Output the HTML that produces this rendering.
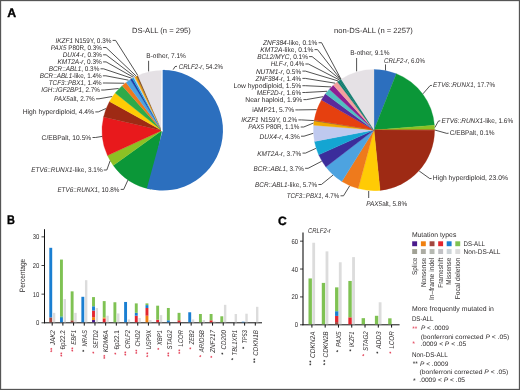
<!DOCTYPE html>
<html><head><meta charset="utf-8"><title>Figure</title>
<style>html,body{margin:0;padding:0;background:#fff;}svg{display:block;will-change:transform;}text{font-family:"Liberation Sans",sans-serif;text-rendering:geometricPrecision;}</style></head>
<body>
<svg width="520" height="390" viewBox="0 0 520 390" font-family='"Liberation Sans", sans-serif'>
<rect x="0" y="0" width="520" height="390" fill="#ffffff"/>
<path d="M161.90,130.50 L150.54,189.31 A59.9,59.9 0 0 1 113.25,165.45 Z" fill="#0b9738" stroke="#0b9738" stroke-width="0.3"/>
<path d="M161.90,130.50 L113.25,165.45 A59.9,59.9 0 0 1 107.49,155.54 Z" fill="#8cc124" stroke="#8cc124" stroke-width="0.3"/>
<path d="M161.90,130.50 L107.49,155.54 A59.9,59.9 0 0 1 103.56,116.90 Z" fill="#e8191c" stroke="#e8191c" stroke-width="0.3"/>
<path d="M161.90,130.50 L103.56,116.90 A59.9,59.9 0 0 1 109.50,101.48 Z" fill="#9e2a14" stroke="#9e2a14" stroke-width="0.3"/>
<path d="M161.90,130.50 L109.50,101.48 A59.9,59.9 0 0 1 115.18,93.01 Z" fill="#ffcb05" stroke="#ffcb05" stroke-width="0.3"/>
<path d="M161.90,130.50 L115.18,93.01 A59.9,59.9 0 0 1 122.22,85.63 Z" fill="#2eaa4a" stroke="#2eaa4a" stroke-width="0.3"/>
<path d="M161.90,130.50 L122.22,85.63 A59.9,59.9 0 0 1 126.18,82.42 Z" fill="#ee7a1c" stroke="#ee7a1c" stroke-width="0.3"/>
<path d="M161.90,130.50 L126.18,82.42 A59.9,59.9 0 0 1 130.40,79.55 Z" fill="#4da3e0" stroke="#4da3e0" stroke-width="0.3"/>
<path d="M161.90,130.50 L130.40,79.55 A59.9,59.9 0 0 1 132.26,78.45 Z" fill="#1c3fa8" stroke="#1c3fa8" stroke-width="0.3"/>
<path d="M161.90,130.50 L132.26,78.45 A59.9,59.9 0 0 1 133.72,77.64 Z" fill="#1aa5d6" stroke="#1aa5d6" stroke-width="0.3"/>
<path d="M161.90,130.50 L133.72,77.64 A59.9,59.9 0 0 1 134.85,77.06 Z" fill="#c0c8f0" stroke="#c0c8f0" stroke-width="0.3"/>
<path d="M161.90,130.50 L134.85,77.06 A59.9,59.9 0 0 1 136.45,76.27 Z" fill="#f5a800" stroke="#f5a800" stroke-width="0.3"/>
<path d="M161.90,130.50 L136.45,76.27 A59.9,59.9 0 0 1 138.08,75.54 Z" fill="#8b5a2b" stroke="#8b5a2b" stroke-width="0.3"/>
<path d="M161.90,130.50 L138.08,75.54 A59.9,59.9 0 0 1 161.90,70.60 Z" fill="#e5e1e5" stroke="#e5e1e5" stroke-width="0.3"/>
<path d="M162.70,130.30 L162.70,70.00 A60.3,60.3 0 1 1 146.83,188.48 Z" fill="#2c6fbe"/>
<path d="M161.0,131.2 L161.6,69 L162.75,69 L162.75,131.2 Z" fill="#fff"/>
<path d="M162.7,130.3 L162.7,69.9 L165,69.9 L165,130.3 Z" fill="#2c6fbe"/>
<text x="132.10" y="32.98" font-size="7.5" text-anchor="start" fill="#2e2b2c" textLength="58.7" lengthAdjust="spacingAndGlyphs">DS-ALL (n = 295)</text>
<text x="146.30" y="57.83" font-size="6.8" text-anchor="start" fill="#2e2b2c" textLength="39.6" lengthAdjust="spacingAndGlyphs">B-other, 7.1%</text>
<text x="178.70" y="68.63" font-size="6.8" text-anchor="start" fill="#2e2b2c" textLength="44.4" lengthAdjust="spacingAndGlyphs"><tspan font-style="italic">CRLF2-r</tspan>, 54.2%</text>
<polyline points="148.60,60.80 148.60,71.40" fill="none" stroke="#333333" stroke-width="0.85" stroke-linejoin="round"/>
<polyline points="177.00,66.30 175.00,66.60 173.20,69.60" fill="none" stroke="#333333" stroke-width="0.85" stroke-linejoin="round"/>
<text x="55.60" y="42.83" font-size="6.8" text-anchor="start" fill="#2e2b2c" textLength="55.8" lengthAdjust="spacingAndGlyphs"><tspan font-style="italic">IKZF1</tspan> N159Y, 0.3%</text>
<polyline points="112.60,40.40 115.60,40.40 137.58,75.06" fill="none" stroke="#333333" stroke-width="0.85" stroke-linejoin="round"/>
<text x="50.80" y="49.93" font-size="6.8" text-anchor="start" fill="#2e2b2c" textLength="51.1" lengthAdjust="spacingAndGlyphs"><tspan font-style="italic">PAX5</tspan> P80R, 0.3%</text>
<polyline points="103.10,47.50 106.10,47.50 135.94,75.83" fill="none" stroke="#333333" stroke-width="0.85" stroke-linejoin="round"/>
<text x="62.70" y="57.23" font-size="6.8" text-anchor="start" fill="#2e2b2c" textLength="39.2" lengthAdjust="spacingAndGlyphs"><tspan font-style="italic">DUX4-r</tspan>, 0.3%</text>
<polyline points="103.10,54.80 106.10,54.80 134.56,76.53" fill="none" stroke="#333333" stroke-width="0.85" stroke-linejoin="round"/>
<text x="57.50" y="64.33" font-size="6.8" text-anchor="start" fill="#2e2b2c" textLength="44.4" lengthAdjust="spacingAndGlyphs"><tspan font-style="italic">KMT2A-r</tspan>, 0.3%</text>
<polyline points="103.10,61.90 106.10,61.90 133.25,77.23" fill="none" stroke="#333333" stroke-width="0.85" stroke-linejoin="round"/>
<text x="48.80" y="71.23" font-size="6.8" text-anchor="start" fill="#2e2b2c" textLength="50.5" lengthAdjust="spacingAndGlyphs"><tspan font-style="italic">BCR</tspan>::<tspan font-style="italic">ABL1</tspan>, 0.3%</text>
<polyline points="100.50,68.80 103.50,68.80 131.57,78.19" fill="none" stroke="#333333" stroke-width="0.85" stroke-linejoin="round"/>
<text x="39.80" y="78.23" font-size="6.8" text-anchor="start" fill="#2e2b2c" textLength="61.9" lengthAdjust="spacingAndGlyphs"><tspan font-style="italic">BCR</tspan>::<tspan font-style="italic">ABL1</tspan>-like, 1.4%</text>
<polyline points="102.90,75.80 105.90,75.80 128.46,80.16" fill="none" stroke="#333333" stroke-width="0.85" stroke-linejoin="round"/>
<text x="48.80" y="85.43" font-size="6.8" text-anchor="start" fill="#2e2b2c" textLength="52.9" lengthAdjust="spacingAndGlyphs"><tspan font-style="italic">TCF3</tspan>::<tspan font-style="italic">PBX1</tspan>, 1.4%</text>
<polyline points="102.90,83.00 105.90,83.00 124.32,83.24" fill="none" stroke="#333333" stroke-width="0.85" stroke-linejoin="round"/>
<text x="41.20" y="92.43" font-size="6.8" text-anchor="start" fill="#2e2b2c" textLength="58.8" lengthAdjust="spacingAndGlyphs"><tspan font-style="italic">IGH</tspan>::<tspan font-style="italic">IGF2BP1</tspan>, 2.7%</text>
<polyline points="101.20,90.00 104.20,90.00 118.63,88.49" fill="none" stroke="#333333" stroke-width="0.85" stroke-linejoin="round"/>
<text x="54.00" y="101.23" font-size="6.8" text-anchor="start" fill="#2e2b2c" textLength="40.8" lengthAdjust="spacingAndGlyphs"><tspan font-style="italic">PAX5</tspan>alt, 2.7%</text>
<polyline points="96.00,98.80 99.00,98.80 112.18,96.53" fill="none" stroke="#333333" stroke-width="0.85" stroke-linejoin="round"/>
<text x="22.70" y="114.33" font-size="6.8" text-anchor="start" fill="#2e2b2c" textLength="71.4" lengthAdjust="spacingAndGlyphs">High hyperdiploid, 4.4%</text>
<polyline points="95.30,111.90 98.30,111.90 105.94,108.53" fill="none" stroke="#333333" stroke-width="0.85" stroke-linejoin="round"/>
<text x="41.60" y="139.93" font-size="6.8" text-anchor="start" fill="#2e2b2c" textLength="49.7" lengthAdjust="spacingAndGlyphs">C/EBPalt, 10.5%</text>
<polyline points="92.50,137.50 95.50,137.50 102.21,136.42" fill="none" stroke="#333333" stroke-width="0.85" stroke-linejoin="round"/>
<text x="31.20" y="172.43" font-size="6.8" text-anchor="start" fill="#2e2b2c" textLength="71.4" lengthAdjust="spacingAndGlyphs"><tspan font-style="italic">ETV6</tspan>::<tspan font-style="italic">RUNX1</tspan>-like, 3.1%</text>
<polyline points="103.80,170.00 106.80,170.00 110.13,160.79" fill="none" stroke="#333333" stroke-width="0.85" stroke-linejoin="round"/>
<text x="57.40" y="191.83" font-size="6.8" text-anchor="start" fill="#2e2b2c" textLength="62.1" lengthAdjust="spacingAndGlyphs"><tspan font-style="italic">ETV6</tspan>::<tspan font-style="italic">RUNX1</tspan>, 10.8%</text>
<polyline points="120.70,189.40 123.70,189.40 127.93,180.07" fill="none" stroke="#333333" stroke-width="0.85" stroke-linejoin="round"/>
<path d="M374.00,130.10 L374.00,69.50 A60.6,60.6 0 0 1 396.31,73.76 Z" fill="#2c6fbe" stroke="#2c6fbe" stroke-width="0.3"/>
<path d="M374.00,130.10 L396.31,73.76 A60.6,60.6 0 0 1 434.40,125.16 Z" fill="#0b9738" stroke="#0b9738" stroke-width="0.3"/>
<path d="M374.00,130.10 L434.40,125.16 A60.6,60.6 0 0 1 434.60,129.91 Z" fill="#8cc124" stroke="#8cc124" stroke-width="0.3"/>
<path d="M374.00,130.10 L434.60,129.91 A60.6,60.6 0 0 1 434.60,130.18 Z" fill="#e8191c" stroke="#e8191c" stroke-width="0.3"/>
<path d="M374.00,130.10 L434.60,130.18 A60.6,60.6 0 0 1 380.08,190.39 Z" fill="#9e2a14" stroke="#9e2a14" stroke-width="0.3"/>
<path d="M374.00,130.10 L380.08,190.39 A60.6,60.6 0 0 1 358.19,188.60 Z" fill="#ffcb05" stroke="#ffcb05" stroke-width="0.3"/>
<path d="M374.00,130.10 L358.19,188.60 A60.6,60.6 0 0 1 341.85,181.47 Z" fill="#ee7a1c" stroke="#ee7a1c" stroke-width="0.3"/>
<path d="M374.00,130.10 L341.85,181.47 A60.6,60.6 0 0 1 325.88,166.94 Z" fill="#4da3e0" stroke="#4da3e0" stroke-width="0.3"/>
<path d="M374.00,130.10 L325.88,166.94 A60.6,60.6 0 0 1 318.69,154.86 Z" fill="#3b2d9b" stroke="#3b2d9b" stroke-width="0.3"/>
<path d="M374.00,130.10 L318.69,154.86 A60.6,60.6 0 0 1 314.47,141.46 Z" fill="#14a5d2" stroke="#14a5d2" stroke-width="0.3"/>
<path d="M374.00,130.10 L314.47,141.46 A60.6,60.6 0 0 1 313.60,125.16 Z" fill="#bfc9ef" stroke="#bfc9ef" stroke-width="0.3"/>
<path d="M374.00,130.10 L313.60,125.16 A60.6,60.6 0 0 1 314.09,121.00 Z" fill="#f2a900" stroke="#f2a900" stroke-width="0.3"/>
<path d="M374.00,130.10 L314.09,121.00 A60.6,60.6 0 0 1 314.21,120.24 Z" fill="#8b5a2b" stroke="#8b5a2b" stroke-width="0.3"/>
<path d="M374.00,130.10 L314.21,120.24 A60.6,60.6 0 0 1 321.46,99.91 Z" fill="#e6400f" stroke="#e6400f" stroke-width="0.3"/>
<path d="M374.00,130.10 L321.46,99.91 A60.6,60.6 0 0 1 325.43,93.87 Z" fill="#5b2a9b" stroke="#5b2a9b" stroke-width="0.3"/>
<path d="M374.00,130.10 L325.43,93.87 A60.6,60.6 0 0 1 329.31,89.17 Z" fill="#4fc0c0" stroke="#4fc0c0" stroke-width="0.3"/>
<path d="M374.00,130.10 L329.31,89.17 A60.6,60.6 0 0 1 333.36,85.15 Z" fill="#8c1f93" stroke="#8c1f93" stroke-width="0.3"/>
<path d="M374.00,130.10 L333.36,85.15 A60.6,60.6 0 0 1 337.46,81.75 Z" fill="#f3a09e" stroke="#f3a09e" stroke-width="0.3"/>
<path d="M374.00,130.10 L337.46,81.75 A60.6,60.6 0 0 1 339.00,80.63 Z" fill="#0c7a6c" stroke="#0c7a6c" stroke-width="0.3"/>
<path d="M374.00,130.10 L339.00,80.63 A60.6,60.6 0 0 1 340.25,79.77 Z" fill="#0c7a6c" stroke="#0c7a6c" stroke-width="0.3"/>
<path d="M374.00,130.10 L340.25,79.77 A60.6,60.6 0 0 1 340.57,79.55 Z" fill="#0c7a6c" stroke="#0c7a6c" stroke-width="0.3"/>
<path d="M374.00,130.10 L340.57,79.55 A60.6,60.6 0 0 1 340.89,79.35 Z" fill="#0c7a6c" stroke="#0c7a6c" stroke-width="0.3"/>
<path d="M374.00,130.10 L340.89,79.35 A60.6,60.6 0 0 1 341.21,79.14 Z" fill="#0c7a6c" stroke="#0c7a6c" stroke-width="0.3"/>
<path d="M374.00,130.10 L341.21,79.14 A60.6,60.6 0 0 1 374.00,69.50 Z" fill="#e5e1e5" stroke="#e5e1e5" stroke-width="0.3"/>
<text x="334.00" y="32.98" font-size="7.5" text-anchor="start" fill="#2e2b2c" textLength="78.9" lengthAdjust="spacingAndGlyphs">non-DS-ALL (n = 2257)</text>
<text x="350.20" y="55.13" font-size="6.8" text-anchor="start" fill="#2e2b2c" textLength="39.3" lengthAdjust="spacingAndGlyphs">B-other, 9.1%</text>
<text x="384.10" y="63.23" font-size="6.8" text-anchor="start" fill="#2e2b2c" textLength="40.9" lengthAdjust="spacingAndGlyphs"><tspan font-style="italic">CRLF2-r</tspan>, 6.0%</text>
<polyline points="356.60,58.00 356.60,71.30" fill="none" stroke="#333333" stroke-width="0.85" stroke-linejoin="round"/>
<polyline points="385.50,64.40 385.50,70.40" fill="none" stroke="#333333" stroke-width="0.85" stroke-linejoin="round"/>
<text x="263.00" y="45.13" font-size="6.8" text-anchor="start" fill="#2e2b2c" textLength="54.4" lengthAdjust="spacingAndGlyphs"><tspan font-style="italic">ZNF384</tspan>-like, 0.1%</text>
<polyline points="318.60,42.70 321.60,42.70 340.88,78.99" fill="none" stroke="#333333" stroke-width="0.85" stroke-linejoin="round"/>
<text x="260.30" y="52.03" font-size="6.8" text-anchor="start" fill="#2e2b2c" textLength="53.0" lengthAdjust="spacingAndGlyphs"><tspan font-style="italic">KMT2A</tspan>-like, 0.1%</text>
<polyline points="314.50,49.60 317.50,49.60 340.56,79.20" fill="none" stroke="#333333" stroke-width="0.85" stroke-linejoin="round"/>
<text x="257.20" y="59.03" font-size="6.8" text-anchor="start" fill="#2e2b2c" textLength="50.7" lengthAdjust="spacingAndGlyphs"><tspan font-style="italic">BCL2/MYC</tspan>, 0.1%</text>
<polyline points="309.10,56.60 312.10,56.60 340.25,79.41" fill="none" stroke="#333333" stroke-width="0.85" stroke-linejoin="round"/>
<text x="270.70" y="66.43" font-size="6.8" text-anchor="start" fill="#2e2b2c" textLength="33.5" lengthAdjust="spacingAndGlyphs"><tspan font-style="italic">HLF-r</tspan>, 0.4%</text>
<polyline points="305.40,64.00 308.40,64.00 339.45,79.95" fill="none" stroke="#333333" stroke-width="0.85" stroke-linejoin="round"/>
<text x="255.90" y="73.53" font-size="6.8" text-anchor="start" fill="#2e2b2c" textLength="45.3" lengthAdjust="spacingAndGlyphs"><tspan font-style="italic">NUTM1-r</tspan>, 0.5%</text>
<polyline points="302.40,71.10 305.40,71.10 338.05,80.94" fill="none" stroke="#333333" stroke-width="0.85" stroke-linejoin="round"/>
<text x="255.50" y="80.83" font-size="6.8" text-anchor="start" fill="#2e2b2c" textLength="45.7" lengthAdjust="spacingAndGlyphs"><tspan font-style="italic">ZNF384-r</tspan>, 1.4%</text>
<polyline points="302.40,78.40 305.40,78.40 335.18,83.18" fill="none" stroke="#333333" stroke-width="0.85" stroke-linejoin="round"/>
<text x="233.40" y="88.13" font-size="6.8" text-anchor="start" fill="#2e2b2c" textLength="67.8" lengthAdjust="spacingAndGlyphs">Low hypodiploid, 1.5%</text>
<polyline points="302.40,85.70 305.40,85.70 331.07,86.90" fill="none" stroke="#333333" stroke-width="0.85" stroke-linejoin="round"/>
<text x="256.80" y="94.93" font-size="6.8" text-anchor="start" fill="#2e2b2c" textLength="44.4" lengthAdjust="spacingAndGlyphs"><tspan font-style="italic">MEF2D-r</tspan>, 1.6%</text>
<polyline points="302.40,92.50 305.40,92.50 327.08,91.28" fill="none" stroke="#333333" stroke-width="0.85" stroke-linejoin="round"/>
<text x="245.30" y="102.03" font-size="6.8" text-anchor="start" fill="#2e2b2c" textLength="56.9" lengthAdjust="spacingAndGlyphs">Near haploid, 1.9%</text>
<polyline points="303.40,99.60 306.40,99.60 323.10,96.66" fill="none" stroke="#333333" stroke-width="0.85" stroke-linejoin="round"/>
<text x="252.20" y="112.33" font-size="6.8" text-anchor="start" fill="#2e2b2c" textLength="42.0" lengthAdjust="spacingAndGlyphs">iAMP21, 5.7%</text>
<polyline points="295.40,109.90 298.40,109.90 316.64,109.65" fill="none" stroke="#333333" stroke-width="0.85" stroke-linejoin="round"/>
<text x="241.30" y="122.33" font-size="6.8" text-anchor="start" fill="#2e2b2c" textLength="55.9" lengthAdjust="spacingAndGlyphs"><tspan font-style="italic">IKZF1</tspan> N159Y, 0.2%</text>
<polyline points="298.40,119.90 301.40,119.90 313.85,120.57" fill="none" stroke="#333333" stroke-width="0.85" stroke-linejoin="round"/>
<text x="248.30" y="129.43" font-size="6.8" text-anchor="start" fill="#2e2b2c" textLength="51.2" lengthAdjust="spacingAndGlyphs"><tspan font-style="italic">PAX5</tspan> P80R, 1.1%</text>
<polyline points="300.70,127.00 303.70,127.00 313.51,123.04" fill="none" stroke="#333333" stroke-width="0.85" stroke-linejoin="round"/>
<text x="259.60" y="138.63" font-size="6.8" text-anchor="start" fill="#2e2b2c" textLength="40.2" lengthAdjust="spacingAndGlyphs"><tspan font-style="italic">DUX4-r</tspan>, 4.3%</text>
<polyline points="301.00,136.20 304.00,136.20 313.19,133.35" fill="none" stroke="#333333" stroke-width="0.85" stroke-linejoin="round"/>
<text x="257.20" y="155.53" font-size="6.8" text-anchor="start" fill="#2e2b2c" textLength="44.1" lengthAdjust="spacingAndGlyphs"><tspan font-style="italic">KMT2A-r</tspan>, 3.7%</text>
<polyline points="302.50,153.10 305.50,153.10 315.91,148.37" fill="none" stroke="#333333" stroke-width="0.85" stroke-linejoin="round"/>
<text x="253.60" y="170.73" font-size="6.8" text-anchor="start" fill="#2e2b2c" textLength="50.3" lengthAdjust="spacingAndGlyphs"><tspan font-style="italic">BCR</tspan>::<tspan font-style="italic">ABL1</tspan>, 3.7%</text>
<polyline points="305.10,168.30 308.10,168.30 321.68,161.27" fill="none" stroke="#333333" stroke-width="0.85" stroke-linejoin="round"/>
<text x="255.10" y="186.93" font-size="6.8" text-anchor="start" fill="#2e2b2c" textLength="62.1" lengthAdjust="spacingAndGlyphs"><tspan font-style="italic">BCR</tspan>::<tspan font-style="italic">ABL1</tspan>-like, 5.7%</text>
<polyline points="318.40,184.50 321.40,184.50 333.01,175.14" fill="none" stroke="#333333" stroke-width="0.85" stroke-linejoin="round"/>
<text x="286.80" y="198.23" font-size="6.8" text-anchor="start" fill="#2e2b2c" textLength="52.5" lengthAdjust="spacingAndGlyphs"><tspan font-style="italic">TCF3</tspan>::<tspan font-style="italic">PBX1</tspan>, 4.7%</text>
<polyline points="340.50,195.80 343.50,195.80 349.64,185.91" fill="none" stroke="#333333" stroke-width="0.85" stroke-linejoin="round"/>
<text x="433.10" y="87.43" font-size="6.8" text-anchor="start" fill="#2e2b2c" textLength="61.9" lengthAdjust="spacingAndGlyphs"><tspan font-style="italic">ETV6</tspan>::<tspan font-style="italic">RUNX1</tspan>, 17.7%</text>
<polyline points="431.90,85.40 430.10,85.60 422.93,93.84" fill="none" stroke="#333333" stroke-width="0.85" stroke-linejoin="round"/>
<text x="441.50" y="122.83" font-size="6.8" text-anchor="start" fill="#2e2b2c" textLength="71.7" lengthAdjust="spacingAndGlyphs"><tspan font-style="italic">ETV6</tspan>::<tspan font-style="italic">RUNX1</tspan>-like, 1.6%</text>
<polyline points="440.30,120.80 438.50,121.00 434.85,127.52" fill="none" stroke="#333333" stroke-width="0.85" stroke-linejoin="round"/>
<text x="449.80" y="135.23" font-size="6.8" text-anchor="start" fill="#2e2b2c" textLength="44.8" lengthAdjust="spacingAndGlyphs">C/EBPalt, 0.1%</text>
<polyline points="448.60,133.20 446.80,133.40 434.90,130.04" fill="none" stroke="#333333" stroke-width="0.85" stroke-linejoin="round"/>
<text x="432.80" y="180.43" font-size="6.8" text-anchor="start" fill="#2e2b2c" textLength="75.1" lengthAdjust="spacingAndGlyphs">High hyperdiploid, 23.0%</text>
<polyline points="431.60,178.40 429.80,178.60 419.15,170.97" fill="none" stroke="#333333" stroke-width="0.85" stroke-linejoin="round"/>
<text x="366.20" y="205.53" font-size="6.8" text-anchor="start" fill="#2e2b2c" textLength="40.9" lengthAdjust="spacingAndGlyphs"><tspan font-style="italic">PAX5</tspan>alt, 5.8%</text>
<polyline points="368.70,191.00 368.70,198.00" fill="none" stroke="#333333" stroke-width="0.85" stroke-linejoin="round"/>
<g font-weight="bold" font-size="12.3" fill="#000" stroke="#000" stroke-width="0.35">
<text x="7.3" y="16.8">A</text>
<text transform="translate(6.9,223.6) scale(0.89,1)">B</text>
<text x="277.9" y="224.5" font-size="12.1">C</text>
</g>
<line x1="44.5" y1="229.2" x2="44.5" y2="323.3" stroke="#111" stroke-width="1"/>
<line x1="44.0" y1="322.8" x2="262" y2="322.8" stroke="#111" stroke-width="1"/>
<line x1="41.5" y1="322.80" x2="44.5" y2="322.80" stroke="#111" stroke-width="0.8"/>
<text x="36.10" y="325.31" font-size="7.0" text-anchor="start" fill="#2e2b2c" textLength="3.3" lengthAdjust="spacingAndGlyphs">0</text>
<line x1="41.5" y1="294.15" x2="44.5" y2="294.15" stroke="#111" stroke-width="0.8"/>
<text x="32.80" y="296.66" font-size="7.0" text-anchor="start" fill="#2e2b2c" textLength="6.6" lengthAdjust="spacingAndGlyphs">10</text>
<line x1="41.5" y1="265.50" x2="44.5" y2="265.50" stroke="#111" stroke-width="0.8"/>
<text x="32.80" y="268.01" font-size="7.0" text-anchor="start" fill="#2e2b2c" textLength="6.6" lengthAdjust="spacingAndGlyphs">20</text>
<line x1="41.5" y1="236.85" x2="44.5" y2="236.85" stroke="#111" stroke-width="0.8"/>
<text x="32.80" y="239.36" font-size="7.0" text-anchor="start" fill="#2e2b2c" textLength="6.6" lengthAdjust="spacingAndGlyphs">30</text>
<text transform="translate(25.3,275.5) rotate(-90)" font-size="7.8" text-anchor="middle" fill="#2e2b2c" textLength="33.4" lengthAdjust="spacingAndGlyphs">Percentage</text>
<rect x="49.30" y="317.43" width="2.90" height="4.87" fill="#a3473f"/>
<rect x="49.30" y="247.81" width="2.90" height="69.62" fill="#1a7fd2"/>
<rect x="52.90" y="312.85" width="2.40" height="9.45" fill="#dcdcdc"/>
<line x1="52.20" y1="322.8" x2="52.20" y2="325.6" stroke="#111" stroke-width="1"/>
<text transform="translate(54.80,330.10) rotate(-90)" font-size="7.0" text-anchor="end" fill="#2e2b2c" font-style="italic" textLength="15.20" lengthAdjust="spacingAndGlyphs">JAK2</text>
<text transform="translate(53.60,351.15) rotate(-90)" font-size="5.5" font-weight="bold" text-anchor="middle" fill="#e0324a">*</text>
<text transform="translate(53.60,348.95) rotate(-90)" font-size="5.5" font-weight="bold" text-anchor="middle" fill="#e0324a">*</text>
<rect x="59.99" y="318.00" width="2.90" height="4.30" fill="#1a7fd2"/>
<rect x="59.99" y="316.28" width="2.90" height="1.72" fill="#3aa0a0"/>
<rect x="59.99" y="259.56" width="2.90" height="56.73" fill="#7fc253"/>
<rect x="63.59" y="299.09" width="2.40" height="23.21" fill="#dcdcdc"/>
<line x1="62.89" y1="322.8" x2="62.89" y2="325.6" stroke="#111" stroke-width="1"/>
<text transform="translate(65.49,330.10) rotate(-90)" font-size="7.0" text-anchor="end" fill="#2e2b2c" textLength="19.50" lengthAdjust="spacingAndGlyphs">6p22.2</text>
<text transform="translate(64.29,355.75) rotate(-90)" font-size="5.5" font-weight="bold" text-anchor="middle" fill="#e0324a">*</text>
<text transform="translate(64.29,353.55) rotate(-90)" font-size="5.5" font-weight="bold" text-anchor="middle" fill="#e0324a">*</text>
<rect x="70.68" y="320.29" width="2.90" height="2.01" fill="#a3473f"/>
<rect x="70.68" y="291.36" width="2.90" height="28.94" fill="#7fc253"/>
<rect x="74.28" y="312.85" width="2.40" height="9.45" fill="#dcdcdc"/>
<line x1="73.58" y1="322.8" x2="73.58" y2="325.6" stroke="#111" stroke-width="1"/>
<text transform="translate(76.18,330.10) rotate(-90)" font-size="7.0" text-anchor="end" fill="#2e2b2c" font-style="italic" textLength="14.70" lengthAdjust="spacingAndGlyphs">EBF1</text>
<text transform="translate(74.98,350.75) rotate(-90)" font-size="5.5" font-weight="bold" text-anchor="middle" fill="#e0324a">*</text>
<text transform="translate(74.98,348.45) rotate(-90)" font-size="5.5" font-weight="bold" text-anchor="middle" fill="#e0324a">*</text>
<rect x="81.37" y="296.80" width="2.90" height="25.50" fill="#1a7fd2"/>
<rect x="84.97" y="280.18" width="2.40" height="42.12" fill="#dcdcdc"/>
<line x1="84.27" y1="322.8" x2="84.27" y2="325.6" stroke="#111" stroke-width="1"/>
<text transform="translate(86.87,330.10) rotate(-90)" font-size="7.0" text-anchor="end" fill="#2e2b2c" font-style="italic" textLength="16.40" lengthAdjust="spacingAndGlyphs">NRAS</text>
<text transform="translate(85.67,350.85) rotate(-90)" font-size="5.5" font-weight="bold" text-anchor="middle" fill="#222">*</text>
<rect x="92.06" y="320.01" width="2.90" height="2.29" fill="#4a1a8c"/>
<rect x="92.06" y="317.14" width="2.90" height="2.87" fill="#f08010"/>
<rect x="92.06" y="310.55" width="2.90" height="6.59" fill="#e3262f"/>
<rect x="92.06" y="306.26" width="2.90" height="4.30" fill="#1a7fd2"/>
<rect x="92.06" y="297.09" width="2.90" height="9.17" fill="#7fc253"/>
<rect x="95.66" y="307.98" width="2.40" height="14.32" fill="#dcdcdc"/>
<line x1="94.96" y1="322.8" x2="94.96" y2="325.6" stroke="#111" stroke-width="1"/>
<text transform="translate(97.56,330.10) rotate(-90)" font-size="7.0" text-anchor="end" fill="#2e2b2c" font-style="italic" textLength="18.40" lengthAdjust="spacingAndGlyphs">SETD2</text>
<text transform="translate(96.36,352.60) rotate(-90)" font-size="5.5" font-weight="bold" text-anchor="middle" fill="#e0324a">*</text>
<rect x="102.75" y="318.58" width="2.90" height="3.72" fill="#e3262f"/>
<rect x="102.75" y="317.43" width="2.90" height="1.15" fill="#f08010"/>
<rect x="102.75" y="301.10" width="2.90" height="16.33" fill="#7fc253"/>
<rect x="106.35" y="315.71" width="2.40" height="6.59" fill="#dcdcdc"/>
<line x1="105.65" y1="322.8" x2="105.65" y2="325.6" stroke="#111" stroke-width="1"/>
<text transform="translate(108.25,330.10) rotate(-90)" font-size="7.0" text-anchor="end" fill="#2e2b2c" font-style="italic" textLength="22.20" lengthAdjust="spacingAndGlyphs">KDM6A</text>
<text transform="translate(107.05,358.05) rotate(-90)" font-size="5.5" font-weight="bold" text-anchor="middle" fill="#e0324a">*</text>
<text transform="translate(107.05,355.95) rotate(-90)" font-size="5.5" font-weight="bold" text-anchor="middle" fill="#e0324a">*</text>
<rect x="113.44" y="302.25" width="2.90" height="20.06" fill="#7fc253"/>
<rect x="117.04" y="313.42" width="2.40" height="8.88" fill="#dcdcdc"/>
<line x1="116.34" y1="322.8" x2="116.34" y2="325.6" stroke="#111" stroke-width="1"/>
<text transform="translate(118.94,330.10) rotate(-90)" font-size="7.0" text-anchor="end" fill="#2e2b2c" textLength="19.50" lengthAdjust="spacingAndGlyphs">6p22.1</text>
<text transform="translate(117.74,353.65) rotate(-90)" font-size="5.5" font-weight="bold" text-anchor="middle" fill="#e0324a">*</text>
<rect x="124.13" y="301.96" width="2.90" height="20.34" fill="#1a7fd2"/>
<rect x="127.73" y="319.44" width="2.40" height="2.87" fill="#dcdcdc"/>
<line x1="127.03" y1="322.8" x2="127.03" y2="325.6" stroke="#111" stroke-width="1"/>
<text transform="translate(129.63,330.10) rotate(-90)" font-size="7.0" text-anchor="end" fill="#2e2b2c" font-style="italic" textLength="18.40" lengthAdjust="spacingAndGlyphs">CRLF2</text>
<text transform="translate(128.43,354.65) rotate(-90)" font-size="5.5" font-weight="bold" text-anchor="middle" fill="#e0324a">*</text>
<text transform="translate(128.43,352.45) rotate(-90)" font-size="5.5" font-weight="bold" text-anchor="middle" fill="#e0324a">*</text>
<rect x="134.82" y="315.71" width="2.90" height="6.59" fill="#e3262f"/>
<rect x="134.82" y="312.85" width="2.90" height="2.87" fill="#1a7fd2"/>
<rect x="134.82" y="303.39" width="2.90" height="9.45" fill="#7fc253"/>
<rect x="138.42" y="318.00" width="2.40" height="4.30" fill="#dcdcdc"/>
<line x1="137.72" y1="322.8" x2="137.72" y2="325.6" stroke="#111" stroke-width="1"/>
<text transform="translate(140.32,330.10) rotate(-90)" font-size="7.0" text-anchor="end" fill="#2e2b2c" font-style="italic" textLength="16.40" lengthAdjust="spacingAndGlyphs">CHD2</text>
<text transform="translate(139.12,353.05) rotate(-90)" font-size="5.5" font-weight="bold" text-anchor="middle" fill="#e0324a">*</text>
<text transform="translate(139.12,350.75) rotate(-90)" font-size="5.5" font-weight="bold" text-anchor="middle" fill="#e0324a">*</text>
<rect x="145.51" y="315.71" width="2.90" height="6.59" fill="#f08010"/>
<rect x="145.51" y="307.98" width="2.90" height="7.74" fill="#e3262f"/>
<rect x="145.51" y="305.11" width="2.90" height="2.87" fill="#1a7fd2"/>
<rect x="145.51" y="303.39" width="2.90" height="1.72" fill="#7fc253"/>
<rect x="149.11" y="320.01" width="2.40" height="2.29" fill="#dcdcdc"/>
<line x1="148.41" y1="322.8" x2="148.41" y2="325.6" stroke="#111" stroke-width="1"/>
<text transform="translate(151.01,330.10) rotate(-90)" font-size="7.0" text-anchor="end" fill="#2e2b2c" font-style="italic" textLength="19.30" lengthAdjust="spacingAndGlyphs">USP9X</text>
<text transform="translate(149.81,356.15) rotate(-90)" font-size="5.5" font-weight="bold" text-anchor="middle" fill="#e0324a">*</text>
<text transform="translate(149.81,353.55) rotate(-90)" font-size="5.5" font-weight="bold" text-anchor="middle" fill="#e0324a">*</text>
<rect x="156.20" y="319.72" width="2.90" height="2.58" fill="#e3262f"/>
<rect x="156.20" y="305.68" width="2.90" height="14.04" fill="#7fc253"/>
<rect x="159.80" y="315.14" width="2.40" height="7.16" fill="#dcdcdc"/>
<line x1="159.10" y1="322.8" x2="159.10" y2="325.6" stroke="#111" stroke-width="1"/>
<text transform="translate(161.70,330.10) rotate(-90)" font-size="7.0" text-anchor="end" fill="#2e2b2c" font-style="italic" textLength="15.20" lengthAdjust="spacingAndGlyphs">XBP1</text>
<text transform="translate(160.50,348.85) rotate(-90)" font-size="5.5" font-weight="bold" text-anchor="middle" fill="#e0324a">*</text>
<rect x="166.89" y="320.29" width="2.90" height="2.01" fill="#1a7fd2"/>
<rect x="166.89" y="307.98" width="2.90" height="12.32" fill="#7fc253"/>
<line x1="169.79" y1="322.8" x2="169.79" y2="325.6" stroke="#111" stroke-width="1"/>
<text transform="translate(172.39,330.10) rotate(-90)" font-size="7.0" text-anchor="end" fill="#2e2b2c" font-style="italic" textLength="19.30" lengthAdjust="spacingAndGlyphs">STAG2</text>
<text transform="translate(171.19,355.75) rotate(-90)" font-size="5.5" font-weight="bold" text-anchor="middle" fill="#e0324a">*</text>
<text transform="translate(171.19,353.35) rotate(-90)" font-size="5.5" font-weight="bold" text-anchor="middle" fill="#e0324a">*</text>
<rect x="177.58" y="320.29" width="2.90" height="2.01" fill="#e3262f"/>
<rect x="177.58" y="312.85" width="2.90" height="7.45" fill="#7fc253"/>
<line x1="180.48" y1="322.8" x2="180.48" y2="325.6" stroke="#111" stroke-width="1"/>
<text transform="translate(183.08,330.10) rotate(-90)" font-size="7.0" text-anchor="end" fill="#2e2b2c" font-style="italic" textLength="16.40" lengthAdjust="spacingAndGlyphs">LCOR</text>
<text transform="translate(181.88,352.95) rotate(-90)" font-size="5.5" font-weight="bold" text-anchor="middle" fill="#e0324a">*</text>
<text transform="translate(181.88,350.35) rotate(-90)" font-size="5.5" font-weight="bold" text-anchor="middle" fill="#e0324a">*</text>
<rect x="188.27" y="312.27" width="2.90" height="10.03" fill="#1a7fd2"/>
<rect x="191.87" y="319.44" width="2.40" height="2.87" fill="#dcdcdc"/>
<line x1="191.17" y1="322.8" x2="191.17" y2="325.6" stroke="#111" stroke-width="1"/>
<text transform="translate(193.77,330.10) rotate(-90)" font-size="7.0" text-anchor="end" fill="#2e2b2c" font-style="italic" textLength="14.40" lengthAdjust="spacingAndGlyphs">ZEB2</text>
<text transform="translate(192.57,348.55) rotate(-90)" font-size="5.5" font-weight="bold" text-anchor="middle" fill="#e0324a">*</text>
<rect x="198.96" y="313.99" width="2.90" height="8.31" fill="#7fc253"/>
<rect x="202.56" y="320.01" width="2.40" height="2.29" fill="#dcdcdc"/>
<line x1="201.86" y1="322.8" x2="201.86" y2="325.6" stroke="#111" stroke-width="1"/>
<text transform="translate(204.46,330.10) rotate(-90)" font-size="7.0" text-anchor="end" fill="#2e2b2c" font-style="italic" textLength="22.20" lengthAdjust="spacingAndGlyphs">ARID5B</text>
<text transform="translate(203.26,356.10) rotate(-90)" font-size="5.5" font-weight="bold" text-anchor="middle" fill="#e0324a">*</text>
<rect x="209.65" y="320.29" width="2.90" height="2.01" fill="#e3262f"/>
<rect x="209.65" y="313.99" width="2.90" height="6.30" fill="#7fc253"/>
<rect x="213.25" y="321.44" width="2.40" height="0.86" fill="#dcdcdc"/>
<line x1="212.55" y1="322.8" x2="212.55" y2="325.6" stroke="#111" stroke-width="1"/>
<text transform="translate(215.15,330.10) rotate(-90)" font-size="7.0" text-anchor="end" fill="#2e2b2c" font-style="italic" textLength="22.70" lengthAdjust="spacingAndGlyphs">ZNF217</text>
<text transform="translate(213.95,356.90) rotate(-90)" font-size="5.5" font-weight="bold" text-anchor="middle" fill="#e0324a">*</text>
<rect x="220.34" y="316.28" width="2.90" height="6.02" fill="#7fc253"/>
<rect x="223.94" y="304.82" width="2.40" height="17.48" fill="#dcdcdc"/>
<line x1="223.24" y1="322.8" x2="223.24" y2="325.6" stroke="#111" stroke-width="1"/>
<text transform="translate(225.84,330.10) rotate(-90)" font-size="7.0" text-anchor="end" fill="#2e2b2c" font-style="italic" textLength="19.30" lengthAdjust="spacingAndGlyphs">CD200</text>
<text transform="translate(224.64,353.70) rotate(-90)" font-size="5.5" font-weight="bold" text-anchor="middle" fill="#222">*</text>
<rect x="234.63" y="313.99" width="2.40" height="8.31" fill="#dcdcdc"/>
<line x1="233.93" y1="322.8" x2="233.93" y2="325.6" stroke="#111" stroke-width="1"/>
<text transform="translate(236.53,330.10) rotate(-90)" font-size="7.0" text-anchor="end" fill="#2e2b2c" font-style="italic" textLength="25.30" lengthAdjust="spacingAndGlyphs">TBL1XR1</text>
<text transform="translate(235.33,359.25) rotate(-90)" font-size="5.5" font-weight="bold" text-anchor="middle" fill="#222">*</text>
<rect x="241.72" y="321.73" width="2.90" height="0.57" fill="#1a7fd2"/>
<rect x="245.32" y="313.70" width="2.40" height="8.60" fill="#dcdcdc"/>
<line x1="244.62" y1="322.8" x2="244.62" y2="325.6" stroke="#111" stroke-width="1"/>
<text transform="translate(247.22,330.10) rotate(-90)" font-size="7.0" text-anchor="end" fill="#2e2b2c" font-style="italic" textLength="13.50" lengthAdjust="spacingAndGlyphs">TP53</text>
<text transform="translate(246.02,347.90) rotate(-90)" font-size="5.5" font-weight="bold" text-anchor="middle" fill="#222">*</text>
<rect x="256.01" y="306.83" width="2.40" height="15.47" fill="#dcdcdc"/>
<line x1="255.31" y1="322.8" x2="255.31" y2="325.6" stroke="#111" stroke-width="1"/>
<text transform="translate(257.91,330.10) rotate(-90)" font-size="7.0" text-anchor="end" fill="#2e2b2c" font-style="italic" textLength="25.60" lengthAdjust="spacingAndGlyphs">CDKN1B</text>
<text transform="translate(256.71,361.85) rotate(-90)" font-size="5.5" font-weight="bold" text-anchor="middle" fill="#222">*</text>
<text transform="translate(256.71,359.35) rotate(-90)" font-size="5.5" font-weight="bold" text-anchor="middle" fill="#222">*</text>
<line x1="303.0" y1="232.4" x2="303.0" y2="325.3" stroke="#111" stroke-width="1.1"/>
<line x1="302.5" y1="324.8" x2="399.6" y2="324.8" stroke="#111" stroke-width="1"/>
<line x1="300.0" y1="324.80" x2="303.0" y2="324.80" stroke="#111" stroke-width="0.8"/>
<text x="294.70" y="327.31" font-size="7.0" text-anchor="start" fill="#2e2b2c" textLength="3.3" lengthAdjust="spacingAndGlyphs">0</text>
<line x1="300.0" y1="296.92" x2="303.0" y2="296.92" stroke="#111" stroke-width="0.8"/>
<text x="291.40" y="299.43" font-size="7.0" text-anchor="start" fill="#2e2b2c" textLength="6.6" lengthAdjust="spacingAndGlyphs">20</text>
<line x1="300.0" y1="269.04" x2="303.0" y2="269.04" stroke="#111" stroke-width="0.8"/>
<text x="291.40" y="271.55" font-size="7.0" text-anchor="start" fill="#2e2b2c" textLength="6.6" lengthAdjust="spacingAndGlyphs">40</text>
<line x1="300.0" y1="241.16" x2="303.0" y2="241.16" stroke="#111" stroke-width="0.8"/>
<text x="291.40" y="243.67" font-size="7.0" text-anchor="start" fill="#2e2b2c" textLength="6.6" lengthAdjust="spacingAndGlyphs">60</text>
<text x="308.1" y="233.2" font-size="7" font-style="italic" fill="#2e2b2c" textLength="22.5" lengthAdjust="spacingAndGlyphs">CRLF2-r</text>
<rect x="308.50" y="278.44" width="3.40" height="45.86" fill="#7fc253"/>
<rect x="312.30" y="242.75" width="2.80" height="81.55" fill="#dcdcdc"/>
<line x1="311.90" y1="324.8" x2="311.90" y2="327.6" stroke="#111" stroke-width="1"/>
<text transform="translate(314.50,331.40) rotate(-90)" font-size="7.0" text-anchor="end" fill="#2e2b2c" font-style="italic" textLength="26.60" lengthAdjust="spacingAndGlyphs">CDKN2A</text>
<text transform="translate(313.30,364.55) rotate(-90)" font-size="5.5" font-weight="bold" text-anchor="middle" fill="#222">*</text>
<text transform="translate(313.30,361.65) rotate(-90)" font-size="5.5" font-weight="bold" text-anchor="middle" fill="#222">*</text>
<rect x="321.78" y="282.90" width="3.40" height="41.40" fill="#7fc253"/>
<rect x="325.58" y="251.39" width="2.80" height="72.91" fill="#dcdcdc"/>
<line x1="325.18" y1="324.8" x2="325.18" y2="327.6" stroke="#111" stroke-width="1"/>
<text transform="translate(327.78,331.40) rotate(-90)" font-size="7.0" text-anchor="end" fill="#2e2b2c" font-style="italic" textLength="26.10" lengthAdjust="spacingAndGlyphs">CDKN2B</text>
<text transform="translate(326.58,364.25) rotate(-90)" font-size="5.5" font-weight="bold" text-anchor="middle" fill="#222">*</text>
<text transform="translate(326.58,361.05) rotate(-90)" font-size="5.5" font-weight="bold" text-anchor="middle" fill="#222">*</text>
<rect x="335.06" y="322.07" width="3.40" height="2.23" fill="#a3473f"/>
<rect x="335.06" y="315.94" width="3.40" height="6.13" fill="#e3262f"/>
<rect x="335.06" y="311.20" width="3.40" height="4.74" fill="#1a7fd2"/>
<rect x="335.06" y="287.36" width="3.40" height="23.84" fill="#7fc253"/>
<rect x="338.86" y="262.27" width="2.80" height="62.03" fill="#dcdcdc"/>
<line x1="338.46" y1="324.8" x2="338.46" y2="327.6" stroke="#111" stroke-width="1"/>
<text transform="translate(341.06,331.40) rotate(-90)" font-size="7.0" text-anchor="end" fill="#2e2b2c" font-style="italic" textLength="15.60" lengthAdjust="spacingAndGlyphs">PAX5</text>
<text transform="translate(339.86,351.20) rotate(-90)" font-size="5.5" font-weight="bold" text-anchor="middle" fill="#222">*</text>
<rect x="348.34" y="317.33" width="3.40" height="6.97" fill="#e3262f"/>
<rect x="348.34" y="280.95" width="3.40" height="36.38" fill="#7fc253"/>
<rect x="352.14" y="257.11" width="2.80" height="67.19" fill="#dcdcdc"/>
<line x1="351.74" y1="324.8" x2="351.74" y2="327.6" stroke="#111" stroke-width="1"/>
<text transform="translate(354.34,331.40) rotate(-90)" font-size="7.0" text-anchor="end" fill="#2e2b2c" font-style="italic" textLength="15.90" lengthAdjust="spacingAndGlyphs">IKZF1</text>
<text transform="translate(353.14,350.55) rotate(-90)" font-size="5.5" font-weight="bold" text-anchor="middle" fill="#222">*</text>
<rect x="361.62" y="318.17" width="3.40" height="6.13" fill="#7fc253"/>
<line x1="365.02" y1="324.8" x2="365.02" y2="327.6" stroke="#111" stroke-width="1"/>
<text transform="translate(367.62,331.40) rotate(-90)" font-size="7.0" text-anchor="end" fill="#2e2b2c" font-style="italic" textLength="19.70" lengthAdjust="spacingAndGlyphs">STAG2</text>
<text transform="translate(366.42,355.10) rotate(-90)" font-size="5.5" font-weight="bold" text-anchor="middle" fill="#e0324a">*</text>
<rect x="374.90" y="315.80" width="3.40" height="8.50" fill="#7fc253"/>
<rect x="378.70" y="302.27" width="2.80" height="22.03" fill="#dcdcdc"/>
<line x1="378.30" y1="324.8" x2="378.30" y2="327.6" stroke="#111" stroke-width="1"/>
<text transform="translate(380.90,331.40) rotate(-90)" font-size="7.0" text-anchor="end" fill="#2e2b2c" font-style="italic" textLength="17.40" lengthAdjust="spacingAndGlyphs">ADD3</text>
<text transform="translate(379.70,352.60) rotate(-90)" font-size="5.5" font-weight="bold" text-anchor="middle" fill="#222">*</text>
<rect x="388.18" y="318.31" width="3.40" height="5.99" fill="#7fc253"/>
<line x1="391.58" y1="324.8" x2="391.58" y2="327.6" stroke="#111" stroke-width="1"/>
<text transform="translate(394.18,331.40) rotate(-90)" font-size="7.0" text-anchor="end" fill="#2e2b2c" font-style="italic" textLength="17.20" lengthAdjust="spacingAndGlyphs">LCOR</text>
<text transform="translate(392.98,352.60) rotate(-90)" font-size="5.5" font-weight="bold" text-anchor="middle" fill="#e0324a">*</text>
<text x="411.90" y="236.83" font-size="6.8" text-anchor="start" fill="#2e2b2c" textLength="44.4" lengthAdjust="spacingAndGlyphs">Mutation types</text>
<rect x="412.2" y="241.3" width="4.9" height="4.9" fill="#4a1a8c"/>
<rect x="420.9" y="241.3" width="4.9" height="4.9" fill="#f08010"/>
<rect x="429.6" y="241.3" width="4.9" height="4.9" fill="#a3473f"/>
<rect x="438.2" y="241.3" width="4.9" height="4.9" fill="#e3262f"/>
<rect x="446.7" y="241.3" width="4.9" height="4.9" fill="#1a7fd2"/>
<rect x="455.3" y="241.3" width="4.9" height="4.9" fill="#7fc253"/>
<rect x="412.2" y="249.1" width="4.9" height="4.9" fill="#a1a195"/>
<rect x="420.9" y="249.1" width="4.9" height="4.9" fill="#acaca3"/>
<rect x="429.6" y="249.1" width="4.9" height="4.9" fill="#b6b9b2"/>
<rect x="438.2" y="249.1" width="4.9" height="4.9" fill="#c1c1c5"/>
<rect x="446.7" y="249.1" width="4.9" height="4.9" fill="#cdd4d8"/>
<rect x="455.3" y="249.1" width="4.9" height="4.9" fill="#dcdcdc"/>
<text x="463.60" y="246.03" font-size="6.8" text-anchor="start" fill="#2e2b2c" textLength="21.4" lengthAdjust="spacingAndGlyphs">DS-ALL</text>
<text x="463.60" y="254.43" font-size="6.8" text-anchor="start" fill="#2e2b2c" textLength="36.9" lengthAdjust="spacingAndGlyphs">Non-DS-ALL</text>
<text transform="translate(417.20,257.7) rotate(-90)" font-size="7.1" text-anchor="end" fill="#2e2b2c" textLength="17.20" lengthAdjust="spacingAndGlyphs">Splice</text>
<text transform="translate(425.60,257.7) rotate(-90)" font-size="7.1" text-anchor="end" fill="#2e2b2c" textLength="29.30" lengthAdjust="spacingAndGlyphs">Nonsense</text>
<text transform="translate(434.20,257.7) rotate(-90)" font-size="7.1" text-anchor="end" fill="#2e2b2c" textLength="42.40" lengthAdjust="spacingAndGlyphs">In–frame indel</text>
<text transform="translate(442.80,257.7) rotate(-90)" font-size="7.1" text-anchor="end" fill="#2e2b2c" textLength="30.00" lengthAdjust="spacingAndGlyphs">Frameshift</text>
<text transform="translate(451.40,257.7) rotate(-90)" font-size="7.1" text-anchor="end" fill="#2e2b2c" textLength="27.10" lengthAdjust="spacingAndGlyphs">Missense</text>
<text transform="translate(460.10,257.7) rotate(-90)" font-size="7.1" text-anchor="end" fill="#2e2b2c" textLength="41.50" lengthAdjust="spacingAndGlyphs">Focal deletion</text>
<text x="411.9" y="311.0" font-size="6.8" fill="#2e2b2c" textLength="82.0" lengthAdjust="spacingAndGlyphs">More frequently mutated in</text>
<text x="411.9" y="320.9" font-size="6.8" fill="#2e2b2c" textLength="21.6" lengthAdjust="spacingAndGlyphs">DS-ALL</text>
<text x="412.3" y="331.0" font-size="7" fill="#e0324a" textLength="5.0" lengthAdjust="spacingAndGlyphs">**</text>
<text x="420.9" y="330.0" font-size="6.4" fill="#2e2b2c" textLength="28.0" lengthAdjust="spacingAndGlyphs"><tspan font-style="italic">P</tspan> &lt; .0009</text>
<text x="420.7" y="338.5" font-size="6.4" fill="#2e2b2c" textLength="88.6" lengthAdjust="spacingAndGlyphs">(bonferroni corrected <tspan font-style="italic">P</tspan> &lt; .05)</text>
<text x="412.2" y="345.8" font-size="7" fill="#e0324a">*</text>
<text x="420.6" y="346.4" font-size="6.4" fill="#2e2b2c" textLength="45.6" lengthAdjust="spacingAndGlyphs">.0009 &lt; <tspan font-style="italic">P</tspan> &lt; .05</text>
<text x="411.9" y="357.4" font-size="6.8" fill="#2e2b2c" textLength="35.8" lengthAdjust="spacingAndGlyphs">Non-DS-ALL</text>
<text x="412.7" y="366.3" font-size="7" fill="#222" textLength="5.0" lengthAdjust="spacingAndGlyphs">**</text>
<text x="420.0" y="365.6" font-size="6.4" fill="#2e2b2c" textLength="28.3" lengthAdjust="spacingAndGlyphs"><tspan font-style="italic">P</tspan> &lt; .0009</text>
<text x="419.6" y="374.0" font-size="6.4" fill="#2e2b2c" textLength="88.6" lengthAdjust="spacingAndGlyphs">(bonferroni corrected <tspan font-style="italic">P</tspan> &lt; .05)</text>
<text x="413.0" y="383.1" font-size="7" fill="#222">*</text>
<text x="419.3" y="382.2" font-size="6.4" fill="#2e2b2c" textLength="45.8" lengthAdjust="spacingAndGlyphs">.0009 &lt; <tspan font-style="italic">P</tspan> &lt; .05</text>
<rect x="0.5" y="0.5" width="519" height="389" fill="none" stroke="#555" stroke-width="1.3"/>
</svg>
</body></html>
